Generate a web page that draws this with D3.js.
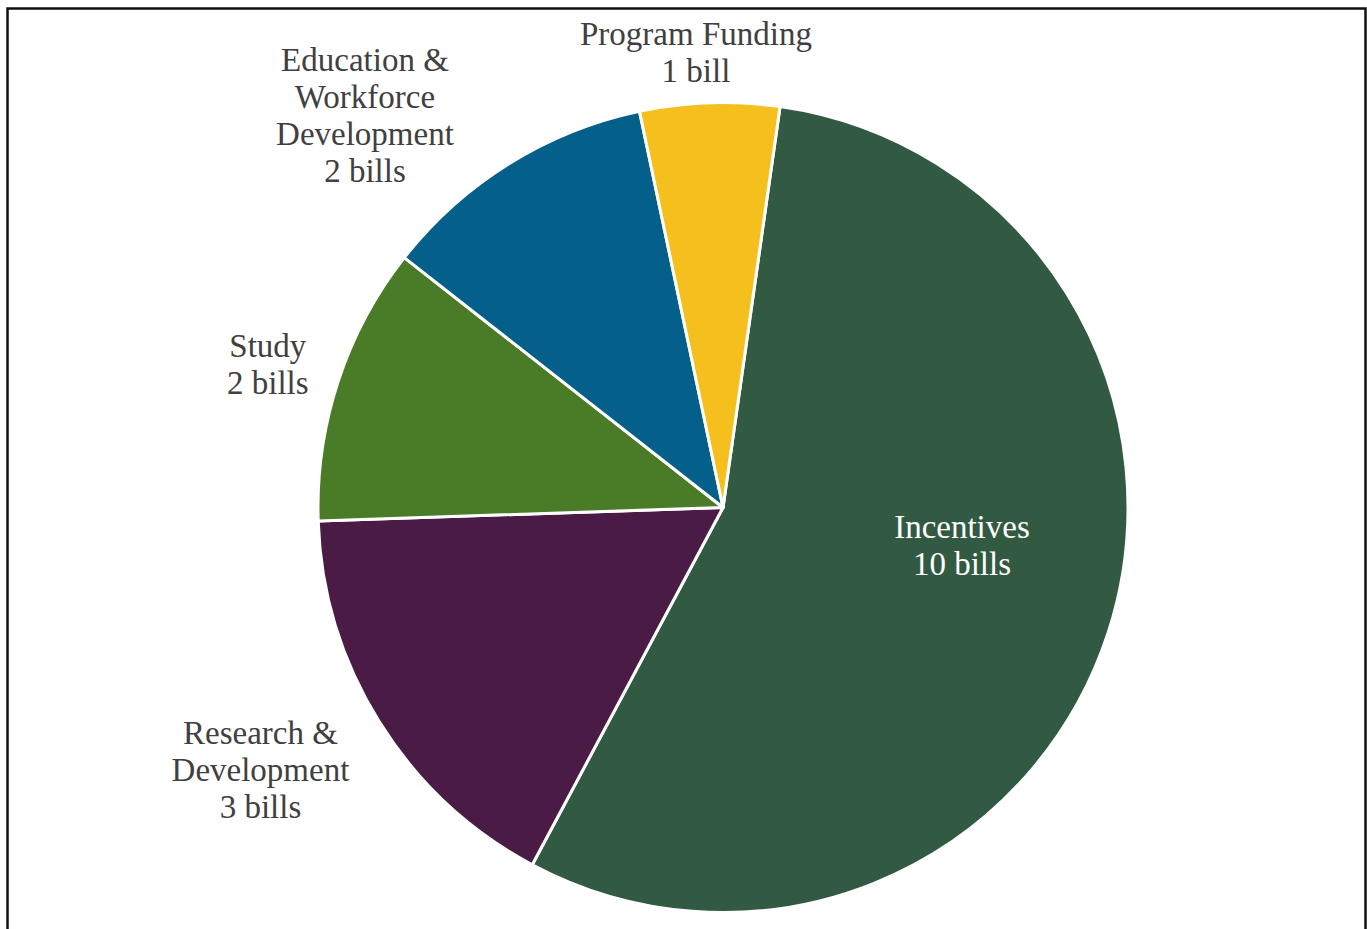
<!DOCTYPE html>
<html><head><meta charset="utf-8">
<script src="https://cdn.jsdelivr.net/npm/d3@7"></script>
<style>html,body{margin:0;padding:0;background:#fff;overflow:hidden}</style>
</head><body>
<svg id="c" width="1367" height="929"></svg>
<script>
const categories = ["Incentives", "Research & Development", "Study", "Education & Workforce Development", "Program Funding"];
const values = [10, 3, 2, 2, 1];
const labelLines = [
  ["Incentives", "10 bills"],
  ["Research &", "Development", "3 bills"],
  ["Study", "2 bills"],
  ["Education &", "Workforce", "Development", "2 bills"],
  ["Program Funding", "1 bill"]
];
const colors = ["#325a42", "#4a1c45", "#4a7c27", "#04608a", "#f5c01e"];
// label layout: [angle shift from slice middle (deg), distance from centre]
const labelLayout = [[-9, 242], [2.3, 532], [-0.7, 477], [-10.5, 531], [-1.5, 456]];

const svg = d3.select("#c");
svg.append("rect").attr("x", 7.5).attr("y", 8.5).attr("width", 1358).attr("height", 1000)
  .attr("fill", "#fff").attr("stroke", "#111").attr("stroke-width", 2.5);

const cx = 723, cy = 507.5, R = 405;
const startA = 8.1 * Math.PI / 180;
const pie = d3.pie().sort(null).value(d => d).startAngle(startA).endAngle(startA + 2 * Math.PI);
const arcs = pie(values);
const arc = d3.arc().innerRadius(0).outerRadius(R);
const g = svg.append("g").attr("transform", `translate(${cx},${cy})`);
g.selectAll("path").data(arcs).join("path")
  .attr("d", arc).attr("fill", (d, i) => colors[i])
  .attr("stroke", "#fff").attr("stroke-width", 3).attr("stroke-linejoin", "round");

const lh = 37;
arcs.forEach((d, i) => {
  const mid = (d.startAngle + d.endAngle) / 2 + labelLayout[i][0] * Math.PI / 180;
  const r = labelLayout[i][1];
  const x = Math.sin(mid) * r, y = -Math.cos(mid) * r;
  const lines = labelLines[i];
  const t = g.append("text").attr("text-anchor", "middle")
    .attr("font-family", "'Liberation Serif', serif").attr("font-size", 33)
    .attr("fill", i === 0 ? "#ffffff" : "#404040");
  lines.forEach((s, k) => {
    t.append("tspan").attr("x", x).attr("y", y + (k - (lines.length - 1) / 2) * lh)
      .attr("dominant-baseline", "central").text(s);
  });
});
</script>
</body></html>
